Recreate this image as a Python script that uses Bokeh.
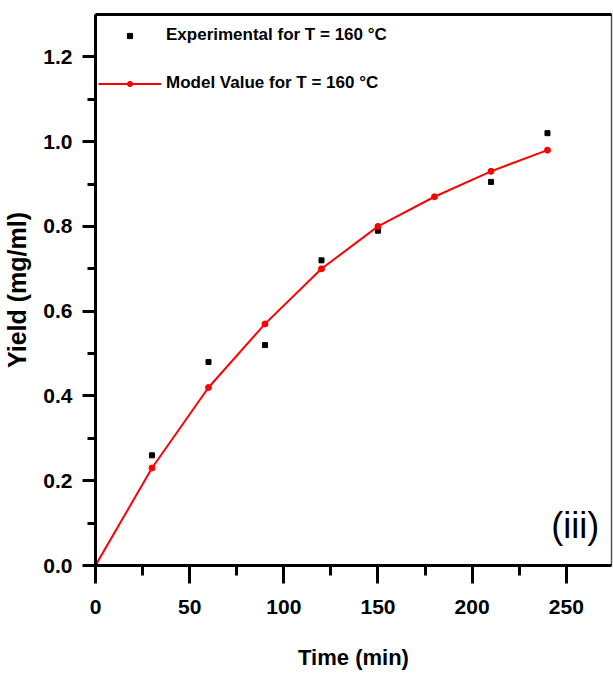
from bokeh.plotting import figure
from bokeh.models import (Range1d, LinearAxis, FixedTicker, Legend, LegendItem, Label)
from bokeh.embed import file_html
from bokeh.resources import INLINE

# ---- data ----
time_model = [0, 30, 60, 90, 120, 150, 180, 210, 240]
yield_model = [0.0, 0.23, 0.42, 0.57, 0.70, 0.80, 0.87, 0.93, 0.98]
time_exp = [30, 60, 90, 120, 150, 210, 240]
yield_exp = [0.26, 0.48, 0.52, 0.72, 0.79, 0.905, 1.02]
x_ticks = [0, 50, 100, 150, 200, 250]
y_ticks = [0.0, 0.2, 0.4, 0.6, 0.8, 1.0, 1.2]
y_tick_labels = ["0.0", "0.2", "0.4", "0.6", "0.8", "1.0", "1.2"]
x_label = "Time (min)"
y_label = "Yield (mg/ml)"
exp_name = "Experimental for T = 160 °C"
model_name = "Model Value for T = 160 °C"
panel_tag = "(iii)"

FONT = "Liberation Sans"

p = figure(width=613, height=677, output_backend="svg", toolbar_location=None,
           x_range=Range1d(0, 274), y_range=Range1d(0, 1.3),
           min_border_left=95, min_border_right=2, min_border_top=14,
           min_border_bottom=112, x_axis_location=None, y_axis_location=None)
p.xgrid.visible = False
p.ygrid.visible = False
p.background_fill_color = "white"
p.border_fill_color = "white"
p.outline_line_color = "#555555"
p.outline_line_width = 1.5

x_minor = [(a + b) / 2 for a, b in zip(x_ticks[:-1], x_ticks[1:])] + [x_ticks[-1] + 25]
y_minor = [round((a + b) / 2, 2) for a, b in zip(y_ticks[:-1], y_ticks[1:])]

xaxis = LinearAxis(ticker=FixedTicker(ticks=x_ticks, minor_ticks=x_minor),
                   axis_label=x_label)
yaxis = LinearAxis(ticker=FixedTicker(ticks=y_ticks, minor_ticks=y_minor),
                   axis_label=y_label,
                   major_label_overrides={t: l for t, l in zip(y_ticks, y_tick_labels)})

for ax in (xaxis, yaxis):
    ax.axis_line_width = 3
    ax.axis_line_color = "black"
    ax.major_tick_line_width = 3
    ax.minor_tick_line_width = 3
    ax.major_tick_in = 0
    ax.minor_tick_in = 0
    ax.major_label_text_font = FONT
    ax.major_label_text_font_style = "bold"
    ax.major_label_text_font_size = "21px"
    ax.major_label_text_color = "black"
    ax.axis_label_text_font = FONT
    ax.axis_label_text_font_style = "bold"
    ax.axis_label_text_color = "black"

xaxis.major_tick_out = 18
xaxis.minor_tick_out = 10
xaxis.major_label_standoff = 16
xaxis.axis_label_text_font_size = "22px"
xaxis.axis_label_standoff = 28

yaxis.major_tick_out = 13
yaxis.minor_tick_out = 8
yaxis.major_label_standoff = 10
yaxis.axis_label_text_font_size = "25px"
yaxis.axis_label_standoff = 9

p.add_layout(xaxis, "below")
p.add_layout(yaxis, "left")

top_axis = LinearAxis(ticker=FixedTicker(ticks=[]), axis_line_width=3,
                      axis_line_color="black", major_tick_out=0, major_tick_in=0,
                      minor_tick_out=0, minor_tick_in=0,
                      major_label_text_font_size="0px", major_label_standoff=0)
p.add_layout(top_axis, "above")

exp_r = p.scatter(time_exp, yield_exp, marker="square", size=5,
                  fill_color="black", line_color="black")
model_line = p.line(time_model, yield_model, line_color="#ff0000", line_width=2)
model_pts = p.scatter(time_model, yield_model, marker="circle", size=6,
                      fill_color="#ff0000", line_color="#ff0000")

legend = Legend(items=[LegendItem(label=exp_name, renderers=[exp_r]),
                       LegendItem(label=model_name, renderers=[model_line, model_pts])],
                location="top_left", margin=3, padding=3, spacing=12,
                glyph_width=63, glyph_height=13, label_height=36, label_standoff=5,
                label_text_font=FONT, label_text_font_style="bold",
                label_text_font_size="17px", label_text_color="black",
                border_line_color=None, background_fill_alpha=0)
p.add_layout(legend, "center")

p.add_layout(Label(x=242, y=0.095, text=panel_tag, text_font=FONT,
                   text_font_size="36px", text_align="left",
                   text_baseline="middle", text_color="black"))

open("out.html", "w").write(file_html(p, INLINE))
